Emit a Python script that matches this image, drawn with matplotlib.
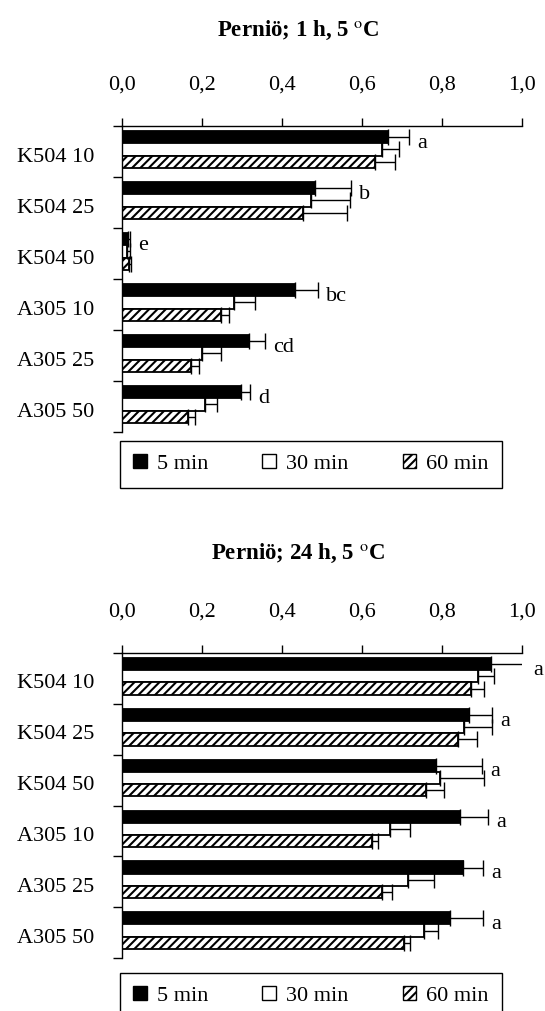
import numpy as np
import matplotlib
matplotlib.use('Agg')
import matplotlib.pyplot as plt
from matplotlib.patches import Patch

plt.rcParams['font.family'] = ['Liberation Serif', 'DejaVu Serif']
plt.rcParams['mathtext.fontset'] = 'stix'
plt.rcParams['hatch.linewidth'] = 1.5

# treatments, top -> bottom
cats = ['K504 10', 'K504 25', 'K504 50', 'A305 10', 'A305 25', 'A305 50']
series = ['5 min', '30 min', '60 min']

# 1 h at 5 C
h1_5min = [0.666, 0.483, 0.016, 0.433, 0.317, 0.297]
h1_5min_err = [0.052, 0.089, 0.004, 0.057, 0.040, 0.023]
h1_30min = [0.650, 0.472, 0.013, 0.281, 0.200, 0.207]
h1_30min_err = [0.042, 0.098, 0.007, 0.052, 0.047, 0.031]
h1_60min = [0.633, 0.453, 0.017, 0.247, 0.172, 0.166]
h1_60min_err = [0.049, 0.110, 0.005, 0.021, 0.021, 0.017]
h1_letters = ['a', 'b', 'e', 'bc', 'cd', 'd']

# 24 h at 5 C
h24_5min = [0.922, 0.867, 0.786, 0.846, 0.852, 0.821]
h24_5min_err = [0.086, 0.059, 0.114, 0.069, 0.051, 0.082]
h24_30min = [0.891, 0.856, 0.795, 0.669, 0.715, 0.754]
h24_30min_err = [0.039, 0.070, 0.111, 0.051, 0.065, 0.037]
h24_60min = [0.872, 0.841, 0.761, 0.626, 0.650, 0.705]
h24_60min_err = [0.032, 0.046, 0.044, 0.015, 0.026, 0.015]
h24_letters = ['a', 'a', 'a', 'a', 'a', 'a']

W, H = 545, 1011
fig = plt.figure(figsize=(W / 100, H / 100), dpi=100)

styles = [dict(color='black', edgecolor='black'),
          dict(color='white', edgecolor='black'),
          dict(color='white', edgecolor='black', hatch='////')]
bh = 0.24


def panel(ax, vals, errs, letters):
    y = np.arange(len(cats)) + 0.46
    for k, (v, e, st) in enumerate(zip(vals, errs, styles)):
        yy = y + (k - 1) * bh
        ax.barh(yy, v, height=bh, linewidth=1.3, **st)
        ax.errorbar(np.array(v), yy, xerr=[np.zeros(len(v)), e], fmt='none',
                    ecolor='black', elinewidth=1.0, capsize=5.5, capthick=1.0)
    top = np.array(vals[0]) + np.array(errs[0])
    for i, t in enumerate(letters):
        ax.annotate(t, (top[i], y[i] - bh + 0.12), xytext=(6, 0), textcoords='offset points',
                    va='center', ha='left', fontsize=16, annotation_clip=False)
    ax.set_xlim(0, 1)
    ax.set_ylim(len(cats), 0)
    ax.xaxis.tick_top()
    ticks = np.arange(0, 1.01, 0.2)
    ax.set_xticks(ticks)
    ax.set_xticklabels([('%.1f' % t).replace('.', ',') for t in ticks])
    ax.tick_params(axis='x', direction='out', length=6, width=1.0, pad=17, labelsize=16)
    ax.set_yticks(np.arange(len(cats) + 1))
    ax.set_yticklabels([])
    ax.set_yticks(np.arange(len(cats)) + 0.56, minor=True)
    ax.set_yticklabels(cats, minor=True, fontsize=16)
    ax.tick_params(axis='y', which='major', direction='out', length=6.5, width=1.0)
    ax.tick_params(axis='y', which='minor', length=0, pad=20)
    for s in ['right', 'bottom']:
        ax.spines[s].set_visible(False)
    for s in ['left', 'top']:
        ax.spines[s].set_linewidth(1.0)


def legend(top_px):
    handles = [Patch(facecolor='black', edgecolor='black', linewidth=1.0),
               Patch(facecolor='white', edgecolor='black', linewidth=1.0),
               Patch(facecolor='white', edgecolor='black', linewidth=1.0, hatch='////')]
    leg = fig.legend(handles, series, loc='upper left', ncol=3,
                     bbox_to_anchor=(120 / W, 1 - top_px / H),
                     borderaxespad=0, fontsize=16, frameon=True,
                     fancybox=False, edgecolor='black', framealpha=1, handlelength=0.6,
                     handleheight=0.6, handletextpad=0.45, borderpad=0.6, columnspacing=2.45)
    leg.get_frame().set_linewidth(1.0)


ax1 = fig.add_axes([122 / W, 1 - 432 / H, 400 / W, 306 / H])
panel(ax1, [h1_5min, h1_30min, h1_60min], [h1_5min_err, h1_30min_err, h1_60min_err], h1_letters)
legend(441)
fig.text(298 / W, 1 - 30 / H, r'Perniö; 1 h, 5 $^{\mathrm{o}}$C', ha='center', va='center',
         fontsize=16.5, fontweight='bold')

ax2 = fig.add_axes([122 / W, 1 - 958 / H, 400 / W, 305 / H])
panel(ax2, [h24_5min, h24_30min, h24_60min], [h24_5min_err, h24_30min_err, h24_60min_err], h24_letters)
legend(973)
fig.text(298 / W, 1 - 553 / H, r'Perniö; 24 h, 5 $^{\mathrm{o}}$C', ha='center', va='center',
         fontsize=16.5, fontweight='bold')

fig.savefig('out.png', dpi=100)
